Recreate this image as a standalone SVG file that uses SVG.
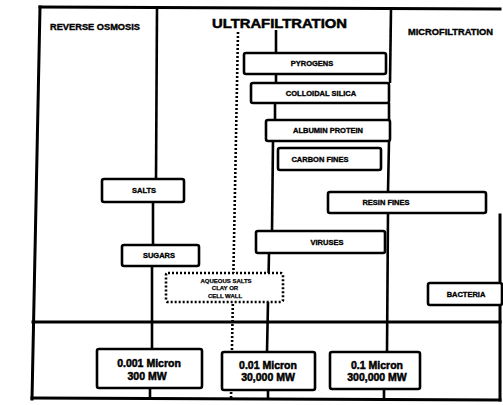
<svg xmlns="http://www.w3.org/2000/svg" width="503" height="405" viewBox="0 0 503 405">
<style>
.frame{fill:none;stroke:#000;stroke-width:3;stroke-linecap:square}
.ln{fill:none;stroke:#000;stroke-width:2.6}
.dot{fill:none;stroke:#000;stroke-width:2.6;stroke-dasharray:2 2}
.box{fill:#fff;stroke:#000;stroke-width:2.6}
.dbox{fill:#fff;stroke:#000;stroke-width:2.6;stroke-dasharray:2 2}
text{font-family:"Liberation Sans",Arial,sans-serif;font-weight:bold;fill:#000;stroke:#000;stroke-width:0.35;text-anchor:middle}
.lbl{font-size:7.5px}
.hdr{font-size:8.5px;text-anchor:start}
.big{font-size:13px;text-anchor:start;stroke-width:0.5}
.sz{font-size:10.5px;stroke-width:0.5}
.sm{font-size:6px;stroke-width:0.25}
</style>
<rect width="503" height="405" fill="#fff"/>
<g id="frame">
<path class="frame" d="M40,7 L500,9"/>
<path class="frame" d="M40,7 L32,399"/>
<path class="frame" d="M32,398 L500,400"/>
<path class="frame" d="M500,215 L500,400"/>
<path class="frame" d="M33,322 L500,322"/>
</g>
<g id="connectors">
<path class="ln" d="M157,8 L156,179"/>
<path class="ln" d="M153,202 L153,245"/>
<path class="ln" d="M152,266 L152,349"/>
<path class="ln" d="M150,388 L150,398"/>
<path class="ln" d="M391,8 L390,83"/>
<path class="ln" d="M389,103 L389,120"/>
<path class="ln" d="M389,141 L388,192"/>
<path class="ln" d="M388,213 L387,352"/>
<path class="ln" d="M384,388 L384,399"/>
<path class="ln" d="M276,30 L276,53"/>
<path class="ln" d="M276,74 L276,83"/>
<path class="ln" d="M275,103 L275,120"/>
<path class="ln" d="M273,141 L272,231"/>
<path class="ln" d="M269,253 L267,352"/>
<path class="ln" d="M268,390 L268,399"/>
<path class="dot" d="M238,32 L231,399"/>
</g>
<g id="headers">
<text class="hdr" x="50" y="30" textLength="90" lengthAdjust="spacingAndGlyphs">REVERSE OSMOSIS</text>
<text class="big" x="212" y="28" textLength="135" lengthAdjust="spacingAndGlyphs">ULTRAFILTRATION</text>
<text class="hdr" x="408" y="35" textLength="85" lengthAdjust="spacingAndGlyphs">MICROFILTRATION</text>
</g>
<g id="pyrogens"><rect class="box" x="244" y="53" width="142" height="21" rx="2"/><text class="lbl" x="312" y="66">PYROGENS</text></g>
<g id="colloidal-silica"><rect class="box" x="251" y="83" width="138" height="20" rx="2"/><text class="lbl" x="321" y="96">COLLOIDAL SILICA</text></g>
<g id="albumin-protein"><rect class="box" x="266" y="120" width="124" height="21" rx="2"/><text class="lbl" x="328" y="133">ALBUMIN PROTEIN</text></g>
<g id="carbon-fines"><rect class="box" x="278" y="148" width="103" height="22" rx="2"/><text class="lbl" x="320" y="162">CARBON FINES</text></g>
<g id="salts"><rect class="box" x="102" y="179" width="82" height="23" rx="2"/><text class="lbl" x="144" y="193">SALTS</text></g>
<g id="resin-fines"><rect class="box" x="328" y="192" width="158" height="21" rx="2"/><text class="lbl" x="386" y="205">RESIN FINES</text></g>
<g id="viruses"><rect class="box" x="256" y="231" width="129" height="22" rx="2"/><text class="lbl" x="327" y="245">VIRUSES</text></g>
<g id="sugars"><rect class="box" x="122" y="245" width="77" height="21" rx="2"/><text class="lbl" x="159" y="258">SUGARS</text></g>
<g id="aqueous-salts"><rect class="dbox" x="166" y="273" width="117" height="29" rx="2"/>
<text class="sm" x="226" y="283">AQUEOUS SALTS</text><text class="sm" x="225" y="290">CLAY OR</text><text class="sm" x="225" y="298">CELL WALL</text></g>
<g id="bacteria"><rect class="box" x="428" y="283" width="74" height="22" rx="2"/><text class="lbl" x="466" y="297">BACTERIA</text></g>
<g id="size-0001"><rect class="box" x="97" y="349" width="105" height="39" rx="2"/><text class="sz" x="149" y="367">0.001 Micron</text><text class="sz" x="147" y="380">300 MW</text></g>
<g id="size-001"><rect class="box" x="222" y="352" width="93" height="38" rx="2"/><text class="sz" x="268" y="369">0.01 Micron</text><text class="sz" x="268" y="381">30,000 MW</text></g>
<g id="size-01"><rect class="box" x="330" y="352" width="90" height="37" rx="2"/><text class="sz" x="377" y="369">0.1 Micron</text><text class="sz" x="377" y="381">300,000 MW</text></g>
</svg>
